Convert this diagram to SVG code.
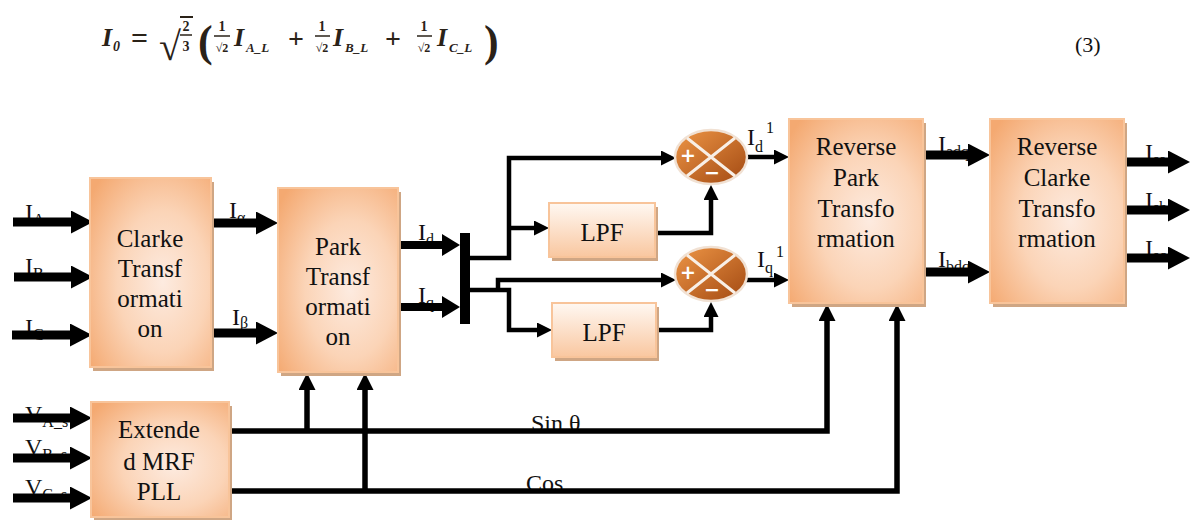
<svg xmlns="http://www.w3.org/2000/svg" width="1192" height="520" viewBox="0 0 1192 520">
<defs>
  <style>
    .box{fill:url(#boxg);stroke:#f8c49a;stroke-width:2}
    .shadow{fill:#cfa684}
    .lpf{fill:url(#lpfg);stroke:#f8c49a;stroke-width:2}
    .bt{font-family:"Liberation Serif",serif;font-size:25px;fill:#111;text-anchor:middle}
    .lb{font-family:"Liberation Serif",serif;font-size:24px;fill:#111}
    .sub{font-size:16px}
    .big{fill:none;stroke:#000;stroke-width:9;marker-end:url(#hb)}
    .mid{fill:none;stroke:#000;stroke-width:8;marker-end:url(#hm)}
    .thin{fill:none;stroke:#000;stroke-width:4.5;stroke-linejoin:miter;marker-end:url(#hs)}
    .up{fill:none;stroke:#000;stroke-width:5.5;stroke-linejoin:miter;marker-end:url(#hu)}
    .sign{font-family:"DejaVu Sans",sans-serif;font-size:19px;font-weight:bold;fill:#fff;text-anchor:middle}
    .fm{font-family:"Liberation Serif",serif;font-weight:bold;font-style:italic;fill:#2a2218}
    .fn{font-family:"Liberation Serif",serif;font-weight:bold;fill:#2a2218}
  </style>
  <radialGradient id="boxg" cx="0.6" cy="0.55" r="0.75">
    <stop offset="0" stop-color="#fdebe0"/>
    <stop offset="0.5" stop-color="#fbd4b7"/>
    <stop offset="1" stop-color="#f4a971"/>
  </radialGradient>
  <linearGradient id="lpfg" x1="0" y1="0" x2="0" y2="1">
    <stop offset="0" stop-color="#fff8f2"/>
    <stop offset="1" stop-color="#f9c7a0"/>
  </linearGradient>
  <linearGradient id="sumg" x1="0" y1="0" x2="1" y2="1">
    <stop offset="0" stop-color="#ee9646"/>
    <stop offset="1" stop-color="#a24912"/>
  </linearGradient>
  <marker id="hb" markerUnits="userSpaceOnUse" markerWidth="22" markerHeight="23" viewBox="0 0 22 23" refX="1" refY="11.5" orient="auto"><path d="M0,0 L22,11.5 L0,23 Z" fill="#000"/></marker>
  <marker id="hm" markerUnits="userSpaceOnUse" markerWidth="18" markerHeight="22" viewBox="0 0 18 22" refX="1" refY="11" orient="auto"><path d="M0,0 L18,11 L0,22 Z" fill="#000"/></marker>
  <marker id="hs" markerUnits="userSpaceOnUse" markerWidth="15" markerHeight="15" viewBox="0 0 15 15" refX="1" refY="7.5" orient="auto"><path d="M0,0 L15,7.5 L0,15 Z" fill="#000"/></marker>
  <marker id="hu" markerUnits="userSpaceOnUse" markerWidth="17" markerHeight="17" viewBox="0 0 17 17" refX="1" refY="8.5" orient="auto"><path d="M0,0 L17,8.5 L0,17 Z" fill="#000"/></marker>
</defs>

<g id="formula">
  <text class="fm" x="102" y="46" font-size="26">I</text>
  <text class="fm" x="113" y="51" font-size="14">0</text>
  <text class="fn" x="131" y="48" font-size="30">=</text>
  <text class="fn" x="159" y="60" font-size="40">√</text>
  <line x1="180" y1="17" x2="193" y2="17" stroke="#2a2218" stroke-width="2"/>
  <text class="fn" x="186" y="31" font-size="14" text-anchor="middle">2</text>
  <line x1="180" y1="35" x2="192" y2="35" stroke="#2a2218" stroke-width="1.5"/>
  <text class="fn" x="186" y="51" font-size="14" text-anchor="middle">3</text>
  <text class="fn" x="198" y="56" font-size="44" font-weight="normal">(</text>
  <text class="fn" x="222" y="31" font-size="14" text-anchor="middle">1</text>
  <line x1="214" y1="36" x2="230" y2="36" stroke="#2a2218" stroke-width="1.5"/>
  <text class="fn" x="222" y="52" font-size="12" text-anchor="middle">√2</text>
  <text class="fm" x="234" y="46" font-size="26">I</text>
  <text class="fm" x="246" y="52" font-size="13">A_L</text>
  <text class="fn" x="296" y="48" font-size="28" text-anchor="middle">+</text>
  <text class="fn" x="322" y="31" font-size="14" text-anchor="middle">1</text>
  <line x1="315" y1="36" x2="330" y2="36" stroke="#2a2218" stroke-width="1.5"/>
  <text class="fn" x="322" y="52" font-size="12" text-anchor="middle">√2</text>
  <text class="fm" x="333" y="46" font-size="26">I</text>
  <text class="fm" x="345" y="52" font-size="13">B_L</text>
  <text class="fn" x="393" y="48" font-size="28" text-anchor="middle">+</text>
  <text class="fn" x="424" y="31" font-size="14" text-anchor="middle">1</text>
  <line x1="417" y1="36" x2="432" y2="36" stroke="#2a2218" stroke-width="1.5"/>
  <text class="fn" x="424" y="52" font-size="12" text-anchor="middle">√2</text>
  <text class="fm" x="437" y="46" font-size="26">I</text>
  <text class="fm" x="449" y="52" font-size="13">C_L</text>
  <text class="fn" x="484" y="56" font-size="44" font-weight="normal">)</text>
  <text x="1075" y="52" font-family="Liberation Serif, serif" font-size="22" fill="#111">(3)</text>
</g>

<g id="labels">
  <text class="lb" x="25" y="220">I<tspan class="sub" dy="5">A</tspan></text>
  <text class="lb" x="25" y="274">I<tspan class="sub" dy="5">B</tspan></text>
  <text class="lb" x="25" y="335">I<tspan class="sub" dy="5">C</tspan></text>
  <text class="lb" x="229" y="218">I<tspan class="sub" dy="5">α</tspan></text>
  <text class="lb" x="232" y="325">I<tspan class="sub" dy="3">β</tspan></text>
  <text class="lb" x="418" y="240">I<tspan class="sub" dy="5">d</tspan></text>
  <text class="lb" x="418" y="303">I<tspan class="sub" dy="5">q</tspan></text>
  <text class="lb" x="747" y="145">I<tspan class="sub" dy="7">d</tspan><tspan class="sub" dx="3" dy="-19">1</tspan></text>
  <text class="lb" x="757" y="267">I<tspan class="sub" dy="6">q</tspan><tspan class="sub" dx="3" dy="-16">1</tspan></text>
  <text class="lb" x="938" y="152">I<tspan class="sub" dy="5">adq</tspan></text>
  <text class="lb" x="938" y="267">I<tspan class="sub" dy="5">bdq</tspan></text>
  <text class="lb" x="1145" y="160">I<tspan class="sub" dy="5">sa</tspan></text>
  <text class="lb" x="1145" y="208">I<tspan class="sub" dy="5">sb</tspan></text>
  <text class="lb" x="1145" y="256">I<tspan class="sub" dy="5">sc</tspan></text>
  <text class="lb" x="25" y="422">V<tspan class="sub" dy="5">A_s</tspan></text>
  <text class="lb" x="25" y="455">V<tspan class="sub" dy="5">B_s</tspan></text>
  <text class="lb" x="25" y="495">V<tspan class="sub" dy="5">C_s</tspan></text>
  <text class="lb" x="531" y="431">Sin θ</text>
  <text class="lb" x="526" y="491">Cos</text>
</g>

<g id="connectors">
  <path class="big" d="M13,222 H72"/>
  <path class="big" d="M14,277 H72"/>
  <path class="big" d="M12,335 H71"/>
  <path class="big" d="M211,223 H257"/>
  <path class="big" d="M212,333 H257"/>
  <path class="big" d="M13,418 H71"/>
  <path class="big" d="M13,458 H71"/>
  <path class="big" d="M13,498 H71"/>
  <path class="mid" d="M398,245 H443"/>
  <path class="mid" d="M398,307 H443"/>
  <rect x="460" y="233" width="10" height="91" fill="#000"/>
  <path class="thin" d="M470,258 H509 V158 H662"/>
  <path class="thin" d="M509,228 H535"/>
  <path class="thin" d="M470,290 H509 V330 H538"/>
  <path class="thin" d="M498,290 V280 H662"/>
  <path class="thin" d="M655,233 H711 V199"/>
  <path class="thin" d="M657,330 H711 V316"/>
  <path class="thin" d="M747,157 H775" stroke-width="5"/>
  <path class="thin" d="M746,280 H775" stroke-width="5"/>
  <path class="big" d="M923,155 H969"/>
  <path class="big" d="M923,272 H969"/>
  <path class="big" d="M1124,162 H1169"/>
  <path class="big" d="M1124,210 H1169"/>
  <path class="big" d="M1124,258 H1169"/>
  <path class="up" d="M229,431 H827 V320"/>
  <path class="up" d="M229,491 H897 V320"/>
  <path class="up" d="M307,431 V389"/>
  <path class="up" d="M365,491 V389"/>
</g>

<g id="clarke">
  <rect class="shadow" x="93" y="182" width="121" height="189"/>
  <rect class="box" x="90" y="178" width="121" height="189"/>
  <text class="bt" x="150" y="247">Clarke</text>
  <text class="bt" x="150" y="277">Transf</text>
  <text class="bt" x="150" y="307">ormati</text>
  <text class="bt" x="150" y="337">on</text>
</g>

<g id="park">
  <rect class="shadow" x="281" y="192" width="120" height="184"/>
  <rect class="box" x="278" y="188" width="120" height="184"/>
  <text class="bt" x="338" y="255">Park</text>
  <text class="bt" x="338" y="285">Transf</text>
  <text class="bt" x="338" y="315">ormati</text>
  <text class="bt" x="338" y="345">on</text>
</g>

<g id="lpf1">
  <rect class="shadow" x="552" y="207" width="106" height="54"/>
  <rect class="lpf" x="549" y="203" width="106" height="54"/>
  <text class="bt" x="602" y="241">LPF</text>
</g>

<g id="lpf2">
  <rect class="shadow" x="555" y="307" width="104" height="54"/>
  <rect class="lpf" x="552" y="303" width="104" height="54"/>
  <text class="bt" x="604" y="341">LPF</text>
</g>

<g id="sum1" transform="translate(711,157)">
  <ellipse rx="36" ry="27" fill="url(#sumg)" stroke="#f1e1d3" stroke-width="2.5"/>
  <path d="M-24,-19 L24,19 M24,-19 L-24,19" stroke="#f8efe6" stroke-width="3"/>
  <text class="sign" x="-23" y="5">+</text>
  <text class="sign" x="1" y="22">−</text>
</g>

<g id="sum2" transform="translate(711,274)">
  <ellipse rx="36" ry="27" fill="url(#sumg)" stroke="#f1e1d3" stroke-width="2.5"/>
  <path d="M-24,-19 L24,19 M24,-19 L-24,19" stroke="#f8efe6" stroke-width="3"/>
  <text class="sign" x="-23" y="5">+</text>
  <text class="sign" x="1" y="22">−</text>
</g>

<g id="reversePark">
  <rect class="shadow" x="792" y="123" width="134" height="184"/>
  <rect class="box" x="789" y="119" width="134" height="184"/>
  <text class="bt" x="856" y="155">Reverse</text>
  <text class="bt" x="856" y="186">Park</text>
  <text class="bt" x="856" y="217">Transfo</text>
  <text class="bt" x="856" y="247">rmation</text>
</g>

<g id="reverseClarke">
  <rect class="shadow" x="993" y="123" width="134" height="184"/>
  <rect class="box" x="990" y="119" width="134" height="184"/>
  <text class="bt" x="1057" y="155">Reverse</text>
  <text class="bt" x="1057" y="186">Clarke</text>
  <text class="bt" x="1057" y="217">Transfo</text>
  <text class="bt" x="1057" y="247">rmation</text>
</g>

<g id="pll">
  <rect class="shadow" x="94" y="406" width="138" height="115"/>
  <rect class="box" x="91" y="402" width="138" height="115"/>
  <text class="bt" x="159" y="438">Extende</text>
  <text class="bt" x="159" y="470">d MRF</text>
  <text class="bt" x="159" y="500">PLL</text>
</g>
</svg>
